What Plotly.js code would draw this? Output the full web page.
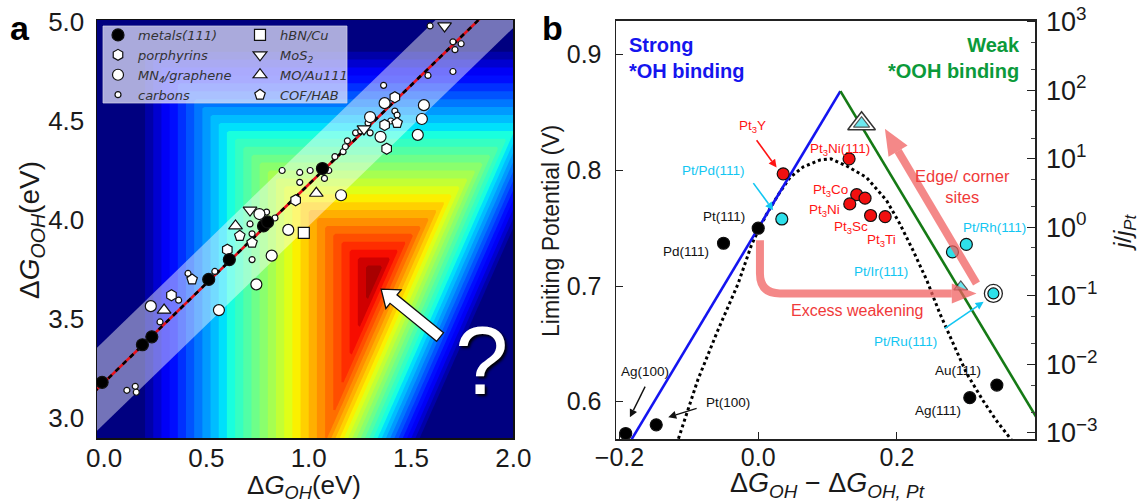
<!DOCTYPE html>
<html>
<head>
<meta charset="utf-8">
<script src="https://cdn.plot.ly/plotly-3.0.1.min.js"></script>
<style>
  html, body { margin: 0; padding: 0; background: #ffffff; }
  #chart { width: 1141px; height: 503px; }
</style>
</head>
<body>
<div id="chart"></div>
<script>
// ---------------- Panel a : ΔG_OOH vs ΔG_OH ----------------
const metalsX = [-0.010, 0.187, 0.233, 0.511, 0.612, 0.779, 0.799, 1.067];
const metalsY = [3.18, 3.37, 3.41, 3.70, 3.80, 3.97, 3.99, 4.26];

const porphyrinX = [0.329, 0.602, 0.936, 1.381, 1.421, 1.371];
const porphyrinY = [3.62, 3.85, 4.10, 4.36, 4.62, 4.48];

const mn4X = [0.228, 0.561, 0.744, 0.819, 0.900, 1.158, 1.371, 1.563, 1.553, 1.533, 1.351, 0.759, 1.300];
const mn4Y = [3.565, 3.545, 3.675, 3.82, 3.95, 4.125, 4.59, 4.58, 4.51, 4.43, 4.42, 4.03, 4.52];

const carbonX = [0.111, 0.152, 0.157, 0.273, 0.364, 0.410, 0.541, 0.723, 0.723, 0.713, 0.794, 0.835,
                 0.870, 0.956, 1.007, 0.956, 1.077, 1.098, 1.128, 1.168, 1.179, 1.189, 1.229, 1.254,
                 1.290, 1.300, 1.401, 1.421, 1.432, 1.366, 1.593, 1.583, 1.705, 1.715, 1.705, 1.745];
const carbonY = [3.14, 3.16, 3.13, 3.485, 3.595, 3.73, 3.74, 3.80, 3.93, 3.98, 4.04, 4.01,
                 4.25, 4.24, 4.25, 4.19, 4.21, 4.25, 4.32, 4.345, 4.37, 4.40, 4.44, 4.45,
                 4.49, 4.44, 4.50, 4.55, 4.53, 4.68, 4.98, 4.73, 4.90, 4.86, 4.75, 4.89];

const hbnX = [0.976];
const hbnY = [3.935];
const mos2X = [0.713, 1.270, 1.664];
const mos2Y = [4.05, 4.46, 4.98];
const moAuX = [0.293, 0.642, 1.037];
const moAuY = [3.545, 3.97, 4.135];
const cofX = [0.430, 0.663, 0.723, 1.432];
const cofY = [3.70, 3.92, 3.885, 4.49];

// scaling relation ΔG_OOH = slope·ΔG_OH + intercept, with its ±band
const scalingSlope = 1.0;
const scalingIntercept = 3.18;
const scalingBand = 0.21;

// limiting potential map U_L(ΔG_OH, ΔG_OOH): the smallest of the step free energies
function limitingPotential(gOH, gOOH) {
  return Math.min(gOH, 5.05 - gOOH, 0.838 * gOOH - 1.945 * gOH + 0.771);
}
const xRangeA = [-0.035, 2.0];
const yRangeA = [2.899, 5.01];
const gridX = [], gridY = [];
for (let i = 0; i <= 210; i++) gridX.push(-0.06 + i * 0.01);
for (let j = 0; j <= 220; j++) gridY.push(2.85 + j * 0.01);
const gridZ = gridY.map(gy => gridX.map(gx => limitingPotential(gx, gy)));

// ---------------- Panel b : limiting potential volcano ----------------
const strongX = [-0.1825, 0.1185];
const strongY = [0.5675, 0.8685];
const weakX = [0.1185, 0.41];
const weakY = [0.8685, 0.5775];

const volcanoX = [-0.115, -0.087, -0.058, -0.029, -0.010, 0.000, 0.012, 0.030, 0.046, 0.065, 0.089, 0.105,
                  0.127, 0.156, 0.185, 0.204, 0.223, 0.243, 0.262, 0.281, 0.300, 0.324, 0.343, 0.365];
const volcanoY = [0.568, 0.619, 0.662, 0.702, 0.735, 0.748, 0.762, 0.780, 0.794, 0.803, 0.809, 0.810,
                  0.804, 0.794, 0.774, 0.754, 0.731, 0.705, 0.676, 0.650, 0.625, 0.601, 0.584, 0.567];

const pureMetalNames = ['Pt(111)', 'Pd(111)', 'Ag(100)', 'Pt(100)', 'Au(111)', 'Ag(111)'];
const pureMetalX = [0.000, -0.050, -0.191, -0.147, 0.344, 0.305];
const pureMetalY = [0.750, 0.737, 0.5725, 0.580, 0.6144, 0.6035];

const alloyX = [0.036, 0.131, 0.142, 0.154, 0.132, 0.162, 0.183];
const alloyY = [0.797, 0.810, 0.779, 0.776, 0.771, 0.761, 0.760];

const overlayerX = [0.034, 0.300, 0.280];
const overlayerY = [0.758, 0.736, 0.7295];
const ptRuX = [0.339];
const ptRuY = [0.6936];
const siteTriX = [0.149, 0.292];
const siteTriY = [0.8404, 0.6993];

const xRangeB = [-0.205, 0.399];
const yRangeB = [0.5675, 0.9296];
const jRatioLog = [-3.092, 3.017];
const jTickVals = [0.001, 0.01, 0.1, 1, 10, 100, 1000];
const jTickText = ['10<sup>−3</sup>', '10<sup>−2</sup>', '10<sup>−1</sup>', '10<sup>0</sup>',
                   '10<sup>1</sup>', '10<sup>2</sup>', '10<sup>3</sup>'];

// ---------------- layout geometry ----------------
const W = 1141, H = 503;
const px = v => v / W;
const py = v => 1 - v / H;
const boxB = { left: 616, right: 1035, top: 20.5, bottom: 439.3 };
const scaleBX = (boxB.right - boxB.left) / (xRangeB[1] - xRangeB[0]);   // px per eV
const scaleBY = (boxB.bottom - boxB.top) / (yRangeB[1] - yRangeB[0]);   // px per V

const BASE_FONT = 'Liberation Sans, Arial, Helvetica, sans-serif';
const LEG_FONT = { family: 'DejaVu Sans, sans-serif', size: 13, color: '#333', style: 'italic' };

const traces = [];

traces.push({
  type: 'contour', x: gridX, y: gridY, z: gridZ, xaxis: 'x', yaxis: 'y',
  zauto: false, zmin: 0.19, zmax: 1.33, showscale: false, hoverinfo: 'skip',
  contours: { coloring: 'fill', start: 0.2, end: 1.32, size: 0.04, showlines: false },
  line: { width: 0, smoothing: 0 },
  colorscale: [
    [0.0, 'rgb(0,0,128)'], [0.11, 'rgb(0,0,255)'], [0.125, 'rgb(0,0,255)'],
    [0.34, 'rgb(0,219,255)'], [0.35, 'rgb(0,230,247)'], [0.375, 'rgb(21,255,226)'],
    [0.64, 'rgb(239,255,8)'], [0.65, 'rgb(247,245,0)'], [0.66, 'rgb(255,236,0)'],
    [0.89, 'rgb(255,19,0)'], [0.91, 'rgb(232,0,0)'], [1.0, 'rgb(128,0,0)']
  ],
  showlegend: false
});

const bandX = [xRangeA[0] - 0.05, xRangeA[1] + 0.05];
const lineY = bandX.map(v => scalingSlope * v + scalingIntercept);
traces.push({ type: 'scatter', mode: 'lines', x: bandX, y: lineY.map(v => v - scalingBand),
  xaxis: 'x', yaxis: 'y', line: { width: 0 }, hoverinfo: 'skip', showlegend: false });
traces.push({ type: 'scatter', mode: 'lines', x: bandX, y: lineY.map(v => v + scalingBand),
  xaxis: 'x', yaxis: 'y', line: { width: 0 }, fill: 'tonexty', fillcolor: 'rgba(255,255,255,0.45)',
  hoverinfo: 'skip', showlegend: false });
traces.push({ type: 'scatter', mode: 'lines', x: bandX, y: lineY, xaxis: 'x', yaxis: 'y',
  line: { color: '#e8101a', width: 2.6 }, hoverinfo: 'skip', showlegend: false });
traces.push({ type: 'scatter', mode: 'lines', x: bandX, y: lineY, xaxis: 'x', yaxis: 'y',
  line: { color: '#000000', width: 2.6, dash: '5px,5px' }, hoverinfo: 'skip', showlegend: false });

const edge = { color: '#111', width: 1.2 };
function groupA(name, xs, ys, symbol, size, fill, legendName, rank) {
  return { type: 'scatter', mode: 'markers', name: name, x: xs, y: ys, xaxis: 'x', yaxis: 'y',
    marker: { symbol: symbol, size: size, color: fill, line: edge },
    legend: legendName, legendrank: rank, hoverinfo: 'x+y' };
}
traces.push(groupA('carbons', carbonX, carbonY, 'circle', 6, '#ffffff', 'legend', 4));
traces.push(groupA('MN<sub>4</sub>/graphene', mn4X, mn4Y, 'circle', 11, '#ffffff', 'legend', 3));
traces.push(groupA('porphyrins', porphyrinX, porphyrinY, 'hexagon', 11, '#ffffff', 'legend', 2));
traces.push(groupA('COF/HAB', cofX, cofY, 'pentagon', 11, '#ffffff', 'legend2', 8));
traces.push(groupA('MO/Au111', moAuX, moAuY, 'triangle-up', 12, '#ffffff', 'legend2', 7));
traces.push(groupA('MoS<sub>2</sub>', mos2X, mos2Y, 'triangle-down', 12, '#ffffff', 'legend2', 6));
traces.push(groupA('hBN/Cu', hbnX, hbnY, 'square', 11, '#ffffff', 'legend2', 5));
traces.push(groupA('metals(111)', metalsX, metalsY, 'circle', 12, '#000000', 'legend', 1));

// panel b traces
function lineB(xs, ys, color, width, dash) {
  return { type: 'scatter', mode: 'lines', x: xs, y: ys, xaxis: 'x2', yaxis: 'y2',
    line: { color: color, width: width, dash: dash || 'solid' }, hoverinfo: 'skip', showlegend: false };
}
traces.push(lineB(volcanoX, volcanoY, '#000000', 3, 'dot'));
traces.push(lineB(strongX, strongY, '#1414f0', 2.6));
traces.push(lineB(weakX, weakY, '#157a15', 2.6));

function markB(name, xs, ys, symbol, size, fill, lineColor, lineWidth) {
  return { type: 'scatter', mode: 'markers', name: name, x: xs, y: ys, xaxis: 'x2', yaxis: 'y2',
    marker: { symbol: symbol, size: size, color: fill, line: { color: lineColor || '#111', width: lineWidth === undefined ? 1.2 : lineWidth } },
    showlegend: false, hoverinfo: 'x+y' };
}
traces.push(markB('Pt/Ru ring', ptRuX, ptRuY, 'circle', 18, '#ffffff', '#222', 1.3));
traces.push(markB('Pt/Ru(111)', ptRuX, ptRuY, 'circle', 11, '#2ee0ea'));
traces.push(markB('sites ring', [siteTriX[0]], [siteTriY[0]], 'triangle-up', 24, '#ffffff', '#333', 1.5));
traces.push(markB('edge/corner sites', siteTriX, siteTriY, 'triangle-up', [14, 12], '#2ee0ea'));
traces.push(markB('pure metals', pureMetalX, pureMetalY, 'circle', 12, '#000000'));
traces.push(markB('Pt3M alloys', alloyX, alloyY, 'circle', 12, '#f21010'));
traces.push(markB('Pt overlayers', overlayerX, overlayerY, 'circle', 12, '#2ee0ea'));
// keeps the j/jPt scale attached to the right-hand axis
traces.push({ type: 'scatter', mode: 'markers', x: [0.1], y: [1], xaxis: 'x2', yaxis: 'y3',
  marker: { opacity: 0 }, hoverinfo: 'skip', showlegend: false });

// ---------------- annotations ----------------
const ann = [];
function paperText(text, x, y, size, opts) {
  ann.push(Object.assign({ text: text, x: px(x), y: py(y), xref: 'paper', yref: 'paper',
    showarrow: false, font: { family: BASE_FONT, size: size, color: '#1a1a1a' },
    xanchor: 'center', yanchor: 'middle' }, opts || {}));
}
paperText('<b>a</b>', 20, 28, 34, { font: { family: BASE_FONT, size: 34, color: '#000' } });
paperText('<b>b</b>', 552, 28, 34, { font: { family: BASE_FONT, size: 34, color: '#000' } });
paperText('Δ<i>G</i><sub><i>OOH</i></sub>(eV)', 31, 230, 28, { textangle: -90 });
paperText('Δ<i>G</i><sub><i>OH</i></sub>(eV)', 304, 468, 26, { yanchor: 'top' });
paperText('Limiting Potential (V)', 551, 231, 23, { textangle: -90 });
paperText('<i>j</i>/<i>j</i><sub><i>Pt</i></sub>', 1124, 232, 24, { textangle: -90 });
paperText('Δ<i>G</i><sub><i>OH</i></sub> − Δ<i>G</i><sub><i>OH, Pt</i></sub>', 728, 466, 27, { xanchor: 'left', yanchor: 'top' });
paperText('?', 481, 360, 96, { font: { family: BASE_FONT, size: 96, color: '#ffffff', shadow: '2px 2px 3px #000' } });

function bText(text, x, y, size, color, opts) {
  ann.push(Object.assign({ text: text, x: x, y: y, xref: 'x2', yref: 'y2', showarrow: false,
    font: { family: BASE_FONT, size: size, color: color }, xanchor: 'center', yanchor: 'middle' }, opts || {}));
}
const RED = '#ff1414', CYAN = '#12c6f2', BLK = '#111111', PINK = '#f03a3a';
bText('<b>Strong<br>*OH binding</b>', -0.189, 0.8975, 20, '#1515ee', { xanchor: 'left', align: 'left' });
bText('<b>Weak<br>*OOH binding</b>', 0.3806, 0.8975, 20, '#0b9a3a', { xanchor: 'right', align: 'right' });
bText('Pt<sub>3</sub>Y', -0.0076, 0.838, 13.5, RED);
bText('Pt/Pd(111)', -0.0638, 0.8001, 13.5, CYAN);
bText('Pt(111)', -0.0491, 0.7598, 13.5, BLK);
bText('Pd(111)', -0.1045, 0.7303, 13.5, BLK);
bText('Pt<sub>3</sub>Ni(111)', 0.1173, 0.8180, 13.5, RED);
bText('Pt<sub>3</sub>Co', 0.1045, 0.7824, 13.5, RED);
bText('Pt<sub>3</sub>Ni', 0.0961, 0.7649, 13.5, RED);
bText('Pt<sub>3</sub>Sc', 0.1340, 0.7504, 13.5, RED);
bText('Pt<sub>3</sub>Ti', 0.1778, 0.7390, 13.5, RED);
bText('Edge/ corner<br>sites', 0.295, 0.7863, 16.5, PINK);
bText('Pt/Rh(111)', 0.3411, 0.7504, 13.5, CYAN);
bText('Pt/Ir(111)', 0.1765, 0.7130, 13.5, CYAN);
bText('Excess weakening', 0.1429, 0.6792, 16, PINK);
bText('Pt/Ru(111)', 0.2125, 0.6518, 13.5, CYAN);
bText('Au(111)', 0.2882, 0.6267, 13.5, BLK);
bText('Ag(111)', 0.2594, 0.5921, 13.5, BLK);
bText('Ag(100)', -0.1625, 0.6259, 13.5, BLK);
bText('Pt(100)', -0.0437, 0.5993, 13.5, BLK);

// ---------------- shapes ----------------
const shapes = [];
// thin pointer arrows in panel b: shaft plus a filled head, sized in screen pixels
function pointer(x0, y0, x1, y1, color, headLen, headHalf, width) {
  const dxp = (x1 - x0) * scaleBX, dyp = -(y1 - y0) * scaleBY;
  const len = Math.hypot(dxp, dyp);
  const ux = dxp / len, uy = dyp / len;
  const bx = -ux * headLen, by = -uy * headLen;          // tip -> base centre
  const nx = -uy * headHalf, ny = ux * headHalf;          // half-width vector
  const toX = d => d / scaleBX, toY = d => -d / scaleBY;
  const baseX = x1 + toX(bx), baseY = y1 + toY(by);
  shapes.push({ type: 'line', xref: 'x2', yref: 'y2', layer: 'above', x0: x0, y0: y0, x1: baseX, y1: baseY,
    line: { color: color, width: width } });
  shapes.push({ type: 'path', xref: 'x2', yref: 'y2', layer: 'above', fillcolor: color, line: { width: 0 },
    path: `M${x1},${y1} L${baseX + toX(nx)},${baseY + toY(ny)} L${baseX - toX(nx)},${baseY - toY(ny)} Z` });
}
pointer(-0.0023, 0.826, 0.0265, 0.8024, RED, 8, 4, 1.6);
pointer(-0.007, 0.789, 0.0216, 0.7655, CYAN, 8, 4, 1.6);
pointer(0.269, 0.6634, 0.325, 0.6864, CYAN, 8, 4, 1.6);
pointer(-0.163, 0.613, -0.185, 0.5865, BLK, 8, 4, 1.4);
pointer(-0.0888, 0.5943, -0.1297, 0.5865, BLK, 8, 4, 1.4);

const ARROW_PINK = 'rgba(240,96,96,0.75)';
shapes.push(
  // legend backdrop in panel a
  { type: 'rect', xref: 'paper', yref: 'paper', x0: px(103), x1: px(347), y0: py(103), y1: py(26),
    fillcolor: 'rgba(236,236,255,0.72)', line: { color: 'rgba(210,210,230,0.9)', width: 0.8 }, layer: 'above' },
  // white arrow pointing at the volcano top in panel a
  { type: 'path', xref: 'x', yref: 'y', layer: 'above',
    path: 'M1.6593,3.431 L1.4316,3.622 L1.4516,3.647 L1.3539,3.651 L1.3773,3.553 L1.3974,3.579 L1.6251,3.387 Z',
    fillcolor: '#ffffff', line: { color: '#111', width: 1.3 } },
  // "excess weakening" bent arrow
  { type: 'path', xref: 'x2', yref: 'y2', layer: 'above',
    path: 'M0.0025,0.7397 L0.0025,0.711 Q0.0025,0.6936 0.0313,0.6936 L0.2791,0.6936',
    line: { color: ARROW_PINK, width: 8 } },
  { type: 'path', xref: 'x2', yref: 'y2', layer: 'above',
    path: 'M0.3147,0.6936 L0.2791,0.7022 L0.2791,0.6850 Z',
    fillcolor: ARROW_PINK, line: { width: 0 } },
  // "edge/corner sites" arrow
  { type: 'line', xref: 'x2', yref: 'y2', layer: 'above', x0: 0.3147, y0: 0.7022, x1: 0.2016, y1: 0.8168,
    line: { color: ARROW_PINK, width: 8 } },
  { type: 'path', xref: 'x2', yref: 'y2', layer: 'above',
    path: 'M0.1826,0.8361 L0.2153,0.8216 L0.1879,0.8119 Z',
    fillcolor: ARROW_PINK, line: { width: 0 } }
);

// ---------------- layout ----------------
const tickFontA = { family: BASE_FONT, size: 26, color: '#1a1a1a' };
const tickFontB = { family: BASE_FONT, size: 25, color: '#1a1a1a' };
const layout = {
  width: W, height: H,
  margin: { l: 0, r: 0, t: 0, b: 0 },
  paper_bgcolor: '#ffffff', plot_bgcolor: '#ffffff',
  font: { family: BASE_FONT, color: '#1a1a1a' },
  showlegend: true,
  legend: { x: px(98), y: py(20), xanchor: 'left', yanchor: 'top', bgcolor: 'rgba(0,0,0,0)',
    font: LEG_FONT, tracegroupgap: 0, traceorder: 'normal', itemclick: false },
  legend2: { x: px(240), y: py(20), xanchor: 'left', yanchor: 'top', bgcolor: 'rgba(0,0,0,0)',
    font: LEG_FONT, tracegroupgap: 0, traceorder: 'normal', itemclick: false },
  xaxis: { domain: [px(97), px(513.3)], range: xRangeA, anchor: 'y', dtick: 0.5, tick0: 0,
    tickformat: '.1f', ticks: '', showgrid: false, zeroline: false, showline: true, mirror: true,
    linecolor: '#111', linewidth: 1.5, tickfont: tickFontA, ticklabelstandoff: -4 },
  yaxis: { domain: [py(438), py(20)], range: yRangeA, anchor: 'x', dtick: 0.5, tick0: 0,
    tickformat: '.1f', ticks: '', showgrid: false, zeroline: false, showline: true, mirror: true,
    linecolor: '#111', linewidth: 1.5, tickfont: tickFontA, ticklabelstandoff: 6 },
  xaxis2: { domain: [px(boxB.left), px(boxB.right)], range: xRangeB, anchor: 'y2', dtick: 0.2, tick0: 0,
    tickformat: '.1f', ticks: 'inside', ticklen: 7, tickcolor: '#222', showgrid: false, zeroline: false,
    showline: true, mirror: true, linecolor: '#222', linewidth: 1.5, tickfont: tickFontB, ticklabelstandoff: -5 },
  yaxis2: { domain: [py(boxB.bottom), py(boxB.top)], range: yRangeB, anchor: 'x2', dtick: 0.1, tick0: 0,
    tickformat: '.1f', ticks: 'inside', ticklen: 7, tickcolor: '#222', showgrid: false, zeroline: false,
    showline: true, mirror: true, linecolor: '#222', linewidth: 1.5, tickfont: tickFontB, ticklabelstandoff: 8 },
  yaxis3: { type: 'log', range: jRatioLog, overlaying: 'y2', anchor: 'x2', side: 'right',
    tickmode: 'array', tickvals: jTickVals, ticktext: jTickText, ticks: 'inside', ticklen: 8, tickcolor: '#222',
    minor: { ticks: 'inside', ticklen: 4, tickcolor: '#444', showgrid: false },
    showgrid: false, zeroline: false, showline: false,
    tickfont: { family: BASE_FONT, size: 27, color: '#1a1a1a' }, ticklabelstandoff: 10 },
  annotations: ann,
  shapes: shapes
};

Plotly.newPlot('chart', traces, layout, { staticPlot: true, displayModeBar: false });
</script>
</body>
</html>
